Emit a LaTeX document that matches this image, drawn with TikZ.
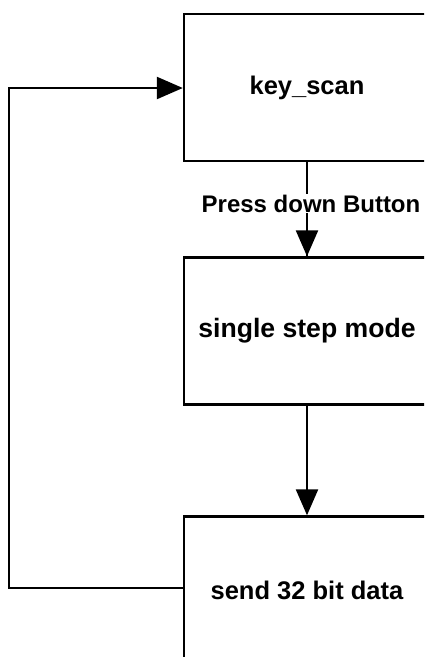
\documentclass[tikz,border=0pt]{standalone}
\usepackage{fontspec}
\setmainfont{Liberation Sans}
\usetikzlibrary{arrows.meta}
\begin{document}
\begin{tikzpicture}[x=1pt,y=-1pt,
  box/.style={draw=black,line width=2.4pt,fill=white,minimum width=246pt,minimum height=147pt,inner sep=0pt,font=\fontsize{25.5}{28}\selectfont\bfseries},
  conn/.style={line width=2.4pt,-{Triangle[length=26pt,width=22pt]}},
  lbl/.style={fill=white,inner sep=1pt,font=\fontsize{24}{27}\selectfont\bfseries}]
\useasboundingbox (0,0) rectangle (424,657);
\clip (0,0) rectangle (424,657);
\fill[white] (0,0) rectangle (424,657);
\node[box] (scan) at (307,87.5) {key\_scan};
\node[box] (single) at (307,331) {\fontsize{26.6}{29}\selectfont single step mode};
\node[box] (send) at (307,590) {send 32 bit data};
\coordinate (bl) at (9,588);
\coordinate (tl) at (9,88);
\draw[line width=2.4pt] (scan.south) -- (single.north) node[lbl,pos=0.44,xshift=4pt] (press) {Press down Button};
\draw[conn] (press.south -| scan.south) -- (single.north);
\draw[conn] (single.south) -- (send.north);
\draw[conn,line join=miter] (send.west |- bl) -- (bl) -- (tl) -- (scan.west |- tl);
\end{tikzpicture}
\end{document}
